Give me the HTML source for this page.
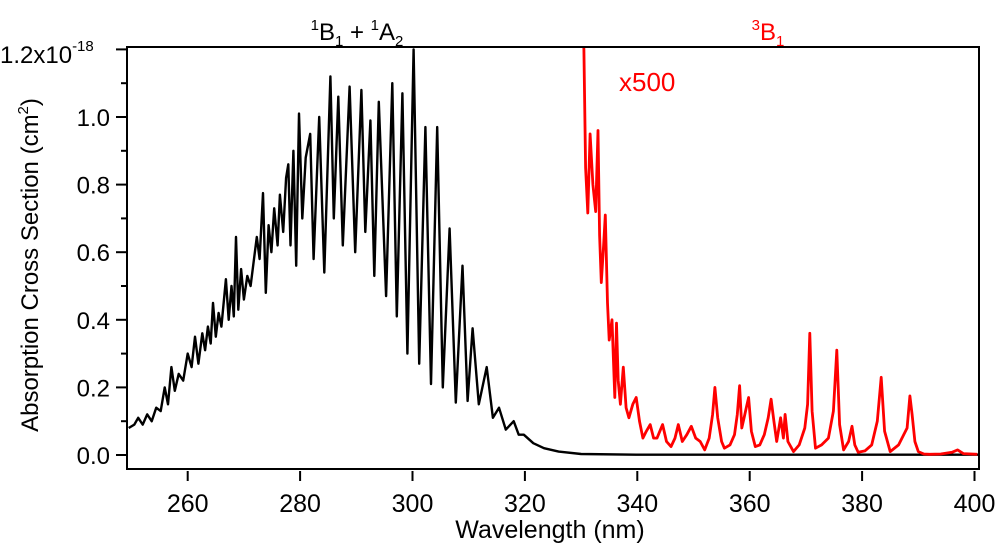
<!DOCTYPE html>
<html><head><meta charset="utf-8"><style>
html,body{margin:0;padding:0;background:#fff;}
svg{display:block;font-family:"Liberation Sans",sans-serif;}
</style></head><body>
<svg id="chart" width="1000" height="548" viewBox="0 0 1000 548">
<defs><clipPath id="plotclip"><rect x="128" y="48" width="850" height="420"/></clipPath></defs>
<rect x="127" y="47" width="852" height="422" fill="none" stroke="#000" stroke-width="2"/>
<g id="ticks"></g>
<g clip-path="url(#plotclip)" id="series"></g>
<text x="357" y="40" font-size="24" text-anchor="middle"><tspan font-size="15" dy="-10">1</tspan><tspan dy="10">B</tspan><tspan font-size="15" dy="6">1</tspan><tspan dy="-6"> + </tspan><tspan font-size="15" dy="-10">1</tspan><tspan dy="10">A</tspan><tspan font-size="15" dy="6">2</tspan></text>
<text x="768" y="40" font-size="24" fill="#f00" text-anchor="middle"><tspan font-size="15" dy="-10">3</tspan><tspan dy="10">B</tspan><tspan font-size="15" dy="6">1</tspan></text>
<text x="619" y="91" font-size="26" fill="#f00">x500</text>
<text x="550" y="538" font-size="25" text-anchor="middle">Wavelength (nm)</text>
<text transform="translate(38,265) rotate(-90)" font-size="24" text-anchor="middle">Absorption Cross Section (cm<tspan font-size="15" dy="-10">2</tspan><tspan dy="10">)</tspan></text>
</svg>
<script>
const xTicks=[260,280,300,320,340,360,380,400];
const yTicks=[0,0.2,0.4,0.6,0.8,1.0,1.2];
const yTickLabels=["0.0","0.2","0.4","0.6","0.8","1.0","1.2x10"];
const singletNm=[249.5,250.5,251.2,252,252.8,253.6,254.4,255.2,255.9,256.5,257.1,257.7,258.4,259.2,260,260.7,261.3,261.9,262.6,263.1,263.6,264.1,264.5,265,265.5,266,266.8,267.3,267.8,268.2,268.6,269,269.5,270,270.6,271.2,271.8,272.3,272.8,273.4,273.9,274.4,274.9,275.4,276,276.4,277,277.5,277.9,278.3,278.8,279.3,279.8,280.4,281,281.8,282.4,283.4,284.3,285.4,286,286.8,287.6,288.8,289.8,290.9,291.6,292.5,293.2,294,295.3,296.4,297.2,298.2,299.1,300.2,301.2,302.3,303.3,304.4,305.4,306.6,307.7,308.9,309.8,310.7,311.8,313.2,314.3,315.4,316.6,318,318.9,319.8,321.5,323.4,326,330,340,360,380,401];
const singletVal=[0.08,0.09,0.11,0.09,0.12,0.10,0.14,0.13,0.20,0.15,0.26,0.19,0.24,0.22,0.30,0.26,0.35,0.27,0.36,0.31,0.38,0.33,0.45,0.35,0.42,0.38,0.52,0.40,0.50,0.41,0.645,0.43,0.55,0.46,0.53,0.50,0.58,0.645,0.58,0.775,0.48,0.68,0.60,0.73,0.62,0.77,0.66,0.82,0.86,0.62,0.90,0.56,1.01,0.70,0.88,0.95,0.58,1.00,0.54,1.12,0.70,1.06,0.62,1.09,0.60,1.08,0.66,0.99,0.53,1.045,0.47,1.10,0.41,1.07,0.30,1.20,0.27,0.97,0.21,0.97,0.20,0.67,0.155,0.56,0.16,0.375,0.15,0.26,0.11,0.14,0.075,0.10,0.06,0.06,0.035,0.02,0.01,0.003,0.001,0.001,0.001,0.001];
const tripletNm=[330.2,330.5,330.8,331.2,331.6,332.1,332.6,333,333.3,333.6,334,334.3,334.7,335,335.5,336,336.3,336.6,337,337.5,338,338.5,339.2,339.8,340.4,341,341.6,342.3,342.9,343.5,344,344.5,345.2,346,346.7,347.3,348,348.8,349.6,350.4,351.2,352,352.8,353.4,353.8,354.3,355,355.5,356.5,357.3,357.8,358.2,358.6,359,359.4,359.8,360.3,361,361.8,362.6,363.3,363.8,364.3,364.8,365.5,366,366.3,366.8,367.8,368.8,369.8,370.3,370.7,371.1,371.7,372.8,374,374.9,375.5,376,376.7,377.6,378.2,378.7,379.3,380.5,381.7,382.7,383.4,384,385,386.5,388,388.5,388.9,389.4,390,391,392,394,396,397,398,400.5];
const tripletVal=[1.3,1.2,0.85,0.716,0.95,0.80,0.72,0.96,0.65,0.51,0.62,0.71,0.45,0.34,0.40,0.17,0.39,0.22,0.15,0.26,0.14,0.11,0.15,0.17,0.10,0.05,0.07,0.09,0.05,0.05,0.07,0.09,0.04,0.025,0.05,0.09,0.04,0.06,0.085,0.05,0.04,0.015,0.05,0.12,0.20,0.11,0.04,0.02,0.03,0.06,0.12,0.205,0.08,0.11,0.14,0.17,0.07,0.025,0.03,0.06,0.11,0.165,0.10,0.04,0.11,0.05,0.12,0.04,0.01,0.03,0.08,0.15,0.36,0.13,0.02,0.03,0.05,0.13,0.31,0.09,0.015,0.04,0.085,0.03,0.008,0.012,0.03,0.10,0.23,0.07,0.01,0.03,0.08,0.175,0.12,0.04,0.01,0.003,0.002,0.003,0.008,0.015,0.004,0.002];

const X=nm=>187.7+(nm-260)*5.62;
const Y=v=>455-v*338;
const NS="http://www.w3.org/2000/svg";
const tg=document.getElementById('ticks');
const sg=document.getElementById('series');
function mk(tag,attrs,parent){const e=document.createElementNS(NS,tag);for(const k in attrs)e.setAttribute(k,attrs[k]);parent.appendChild(e);return e;}
xTicks.forEach(t=>{
  const l=mk('line',{x1:X(t),x2:X(t),y1:471,y2:481,stroke:'#000','stroke-width':2},tg);
  
  
  const tx=mk('text',{x:X(t),y:512,'font-size':25,'text-anchor':'middle'},tg);
  tx.textContent=t;
  
  
});
for(let i=0;i<=12;i++){
  const v=i/10, major=i%2===0;
  const l=mk('line',{x1:major?116:121,x2:126,y1:Y(v),y2:Y(v),stroke:'#000','stroke-width':2},tg);
  
  
}
yTicks.forEach((t,i)=>{
  const last=i===yTicks.length-1;
  const tx=mk('text',{x:last?0:110,y:last?63:Y(t)+9,'font-size':24,'text-anchor':last?'start':'end'},tg);
  tx.textContent=yTickLabels[i];
  if(last){const s=mk('tspan',{'font-size':15,dy:-12},tx);s.textContent='-18';}
  
  
});
function path(nms,vals){return nms.map((n,i)=>(i?'L':'M')+X(n).toFixed(1)+','+Y(vals[i]).toFixed(1)).join('');}
const p1=mk('path',{d:path(singletNm,singletVal),fill:'none',stroke:'#000','stroke-width':2.4,'stroke-linejoin':'round'},sg);


const p2=mk('path',{d:path(tripletNm,tripletVal),fill:'none',stroke:'#f00','stroke-width':2.8,'stroke-linejoin':'round'},sg);


</script>
</body></html>
